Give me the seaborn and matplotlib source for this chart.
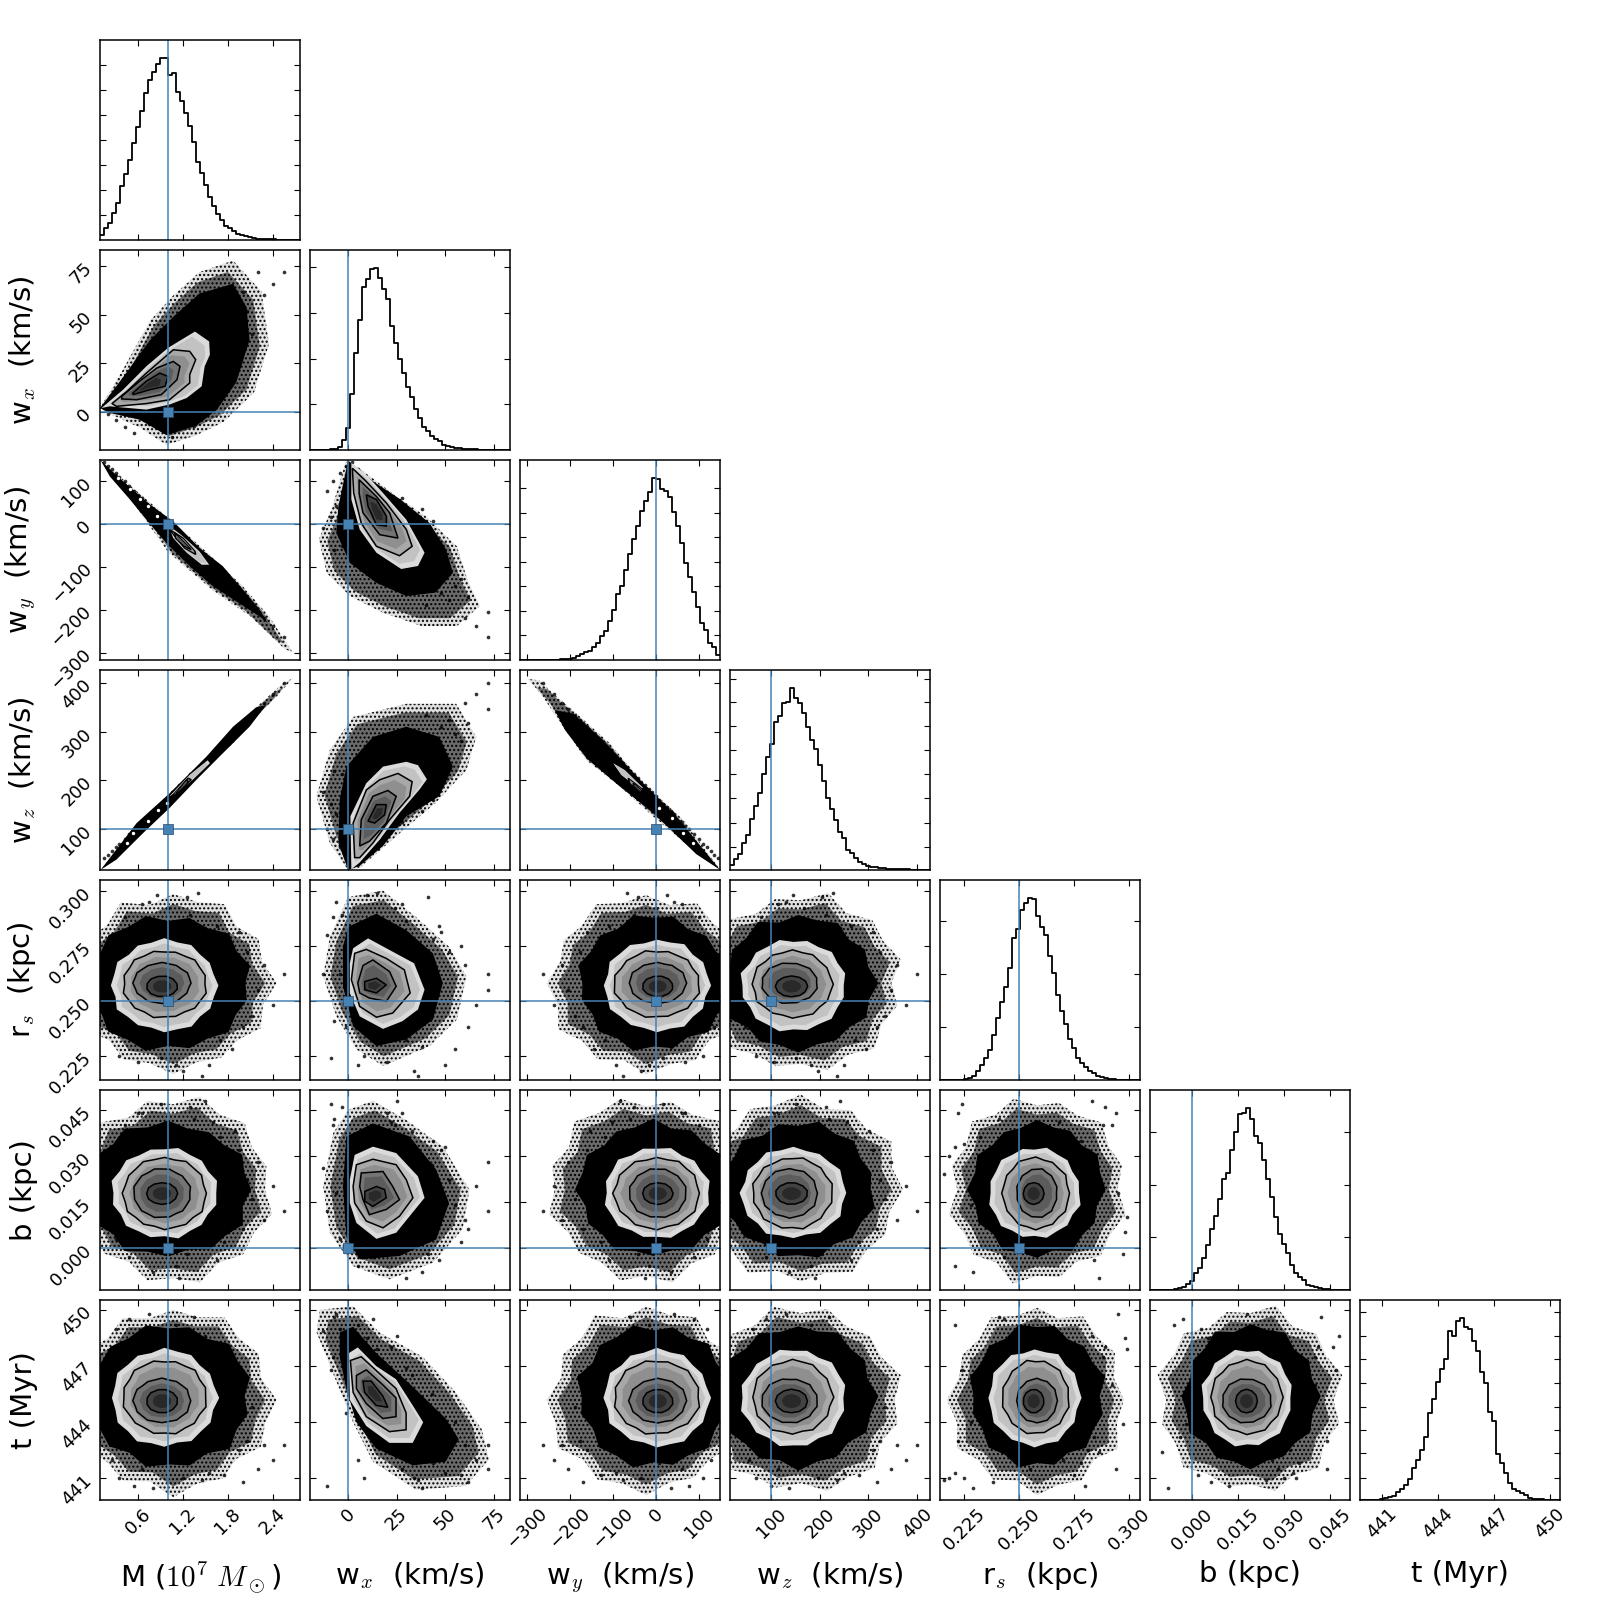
import matplotlib
matplotlib.use('Agg')
import numpy as np
import pandas as pd
import seaborn as sns
import matplotlib.pyplot as plt

sns.set_style('white')
plt.rcParams['mathtext.fontset'] = 'cm'
plt.rcParams['font.family'] = 'DejaVu Sans'
plt.rcParams['hatch.linewidth'] = 1.0
plt.rcParams['text.color'] = 'k'
plt.rcParams['axes.labelcolor'] = 'k'

names = ['M', 'wx', 'wy', 'wz', 'rs', 'b', 't']
labels = [r'M ($10^7\ M_\odot$)', r'w$_x$  (km/s)', r'w$_y$  (km/s)', r'w$_z$  (km/s)',
          r'r$_s$  (kpc)', 'b (kpc)', 't (Myr)']
ranges = [(0.09, 2.765), (-19.6, 83.4), (-317, 149), (15.6, 426.5),
          (0.214, 0.3048), (-0.0138, 0.0515), (439.85, 450.53)]
truths = [1.0, 0.0, 0.0, 100.0, 0.25, 0.0, None]

ticks = [[0.6, 1.2, 1.8, 2.4], [0, 25, 50, 75], [-300, -200, -100, 0, 100], [100, 200, 300, 400],
         [0.225, 0.25, 0.275, 0.3], [0.0, 0.015, 0.03, 0.045], [441, 444, 447, 450]]
tick_labels = [['0.6', '1.2', '1.8', '2.4'], ['0', '25', '50', '75'],
               ['\u2212300', '\u2212200', '\u2212100', '0', '100'], ['100', '200', '300', '400'],
               ['0.225', '0.250', '0.275', '0.300'], ['0.000', '0.015', '0.030', '0.045'],
               ['441', '444', '447', '450']]

# marginal histograms, 50 bins each
hist_M = [14, 37, 52, 82, 111, 161, 199, 239, 290, 340, 388, 442, 480, 504, 529, 547, 547, 495, 501, 445,
          417, 382, 342, 293, 235, 202, 166, 129, 102, 79, 59, 41, 35, 26, 19, 15, 11, 8, 5, 4,
          3, 3, 2, 2, 1, 1, 1, 1, 1, 0]
hist_wx = [0, 0, 0, 0, 1, 2, 3, 8, 30, 67, 167, 292, 390, 488, 513, 544, 547, 515, 484, 452,
           372, 322, 272, 230, 188, 158, 122, 95, 70, 57, 42, 32, 27, 15, 12, 9, 7, 5, 4, 3,
           2, 2, 1, 1, 1, 1, 0, 0, 0, 0]
hist_wy = [0, 0, 0, 0, 0, 0, 0, 1, 1, 1, 2, 2, 4, 5, 13, 18, 23, 26, 40, 52,
           72, 88, 117, 151, 198, 222, 270, 317, 363, 402, 447, 476, 503, 546, 542, 512, 505, 489, 442, 401,
           350, 290, 248, 203, 158, 110, 89, 52, 38, 16]
hist_wz = [15, 32, 49, 81, 106, 154, 193, 232, 289, 338, 378, 443, 461, 501, 505, 547, 517, 500, 471, 428,
           391, 362, 315, 268, 215, 183, 149, 113, 96, 60, 50, 37, 25, 18, 13, 10, 8, 6, 5, 4,
           3, 3, 2, 2, 2, 1, 1, 1, 1, 0]
hist_rs = [0, 0, 0, 0, 0, 1, 3, 7, 13, 27, 45, 65, 90, 134, 185, 233, 278, 335, 425, 450,
           508, 528, 545, 542, 490, 458, 433, 370, 320, 254, 205, 167, 123, 95, 67, 50, 38, 27, 20, 12,
           8, 5, 3, 2, 1, 1, 1, 0, 0, 0]
hist_b = [0, 0, 0, 0, 0, 1, 3, 5, 10, 18, 27, 50, 67, 97, 135, 182, 223, 273, 333, 350,
          419, 472, 527, 530, 546, 512, 462, 440, 390, 332, 279, 218, 168, 139, 112, 75, 50, 40, 30, 15,
          12, 9, 6, 4, 2, 1, 1, 1, 0, 0]
hist_t = [0, 0, 0, 0, 1, 3, 6, 9, 13, 25, 32, 45, 64, 95, 120, 149, 188, 261, 303, 354,
          392, 423, 505, 492, 537, 546, 517, 512, 477, 445, 382, 349, 264, 236, 138, 110, 80, 52, 32, 26,
          20, 14, 6, 4, 3, 2, 1, 1, 1, 0]
hists = [hist_M, hist_wx, hist_wy, hist_wz, hist_rs, hist_b, hist_t]

hist_ticks = [[75, 150, 225, 300, 375, 450, 525], [137, 272, 411, 548], [74, 146, 222, 293, 368, 440, 515],
              [70, 142, 215, 287, 359, 431, 503, 573], [158, 317, 476], [158, 314, 473],
              [67, 140, 209, 280, 350, 422, 492, 564]]

# centre and full width of each density level: outer scatter, solid scatter, then four contours
centre_M = [1.07, 1.0, 0.95, 0.955, 0.92, 0.92]
width_M = [2.58, 2.18, 1.40, 1.11, 0.76, 0.41]
centre_wy = [-23, -6, 2, 2, 4, 4]
width_wy = [442, 345, 244, 198, 132, 70]
centre_wz = [161, 156, 146, 144, 138, 142]
width_wz = [401, 310, 214, 163, 114, 65]
centre_rs = [0.258, 0.258, 0.2569, 0.2575, 0.258, 0.2565]
width_rs = [0.078, 0.060, 0.0413, 0.0301, 0.0183, 0.0093]
centre_b = [0.019, 0.019, 0.0179, 0.0178, 0.0178, 0.0177]
width_b = [0.0585, 0.0433, 0.0293, 0.0231, 0.0159, 0.007]
centre_t = [445.2, 445.4, 445.3, 445.34, 445.15, 445.13]
width_t = [9.6, 7.45, 5.14, 3.9, 2.34, 1.24]
centres = {'M': centre_M, 'wy': centre_wy, 'wz': centre_wz, 'rs': centre_rs, 'b': centre_b, 't': centre_t}
widths = {'M': width_M, 'wy': width_wy, 'wz': width_wz, 'rs': width_rs, 'b': width_b, 't': width_t}

# lumpy rim of the round contours, relative radius around the outline
rim = [1.00, 0.95, 1.04, 0.97, 1.06, 0.96, 1.02, 0.94, 1.05, 0.98, 1.03, 0.95,
       1.07, 0.97, 1.01, 0.94, 1.04, 0.99, 1.06, 0.95, 1.02, 0.97, 1.05, 0.96]
rim_strength = [1.2, 1.0, 0.7, 0.6, 0.5, 0.4]

# skewed and narrow panels, outlines
M_wx = [
    [(0.09, 2), (0.40, 22), (0.76, 47), (1.07, 60), (1.42, 72), (1.87, 78), (2.25, 62), (2.35, 35), (2.15, 10), (1.75, -5), (1.38, -12), (0.98, -17), (0.62, -8), (0.22, -1)],
    [(0.09, 2), (0.40, 18), (0.76, 37), (1.07, 49), (1.42, 61), (1.87, 66), (2.05, 54), (2.09, 37), (1.91, 15), (1.65, 1), (1.38, -7), (0.98, -12), (0.62, -4), (0.22, -0.5)],
    [(0.11, 2), (0.40, 11.5), (0.71, 23.5), (1.0, 33), (1.36, 41.4), (1.55, 36.3), (1.56, 29.5), (1.49, 23.5), (1.45, 13.2), (1.25, 7.2), (1.02, 3.8), (0.71, 1.2), (0.22, 2.9)],
    [(0.25, 4.3), (0.45, 10.6), (0.71, 20), (1.07, 32), (1.29, 31.2), (1.37, 26.9), (1.29, 19.2), (1.29, 14.9), (1.02, 6.3), (0.71, 4.3), (0.31, 2.9)],
    [(0.38, 8), (0.62, 15.8), (0.85, 22.6), (1.07, 26), (1.16, 23.5), (1.12, 16.6), (0.91, 8.9), (0.58, 6.3), (0.38, 6.7)],
    [(0.53, 9.8), (0.71, 15.8), (0.89, 20), (1.0, 18.3), (0.96, 13.2), (0.76, 11.5), (0.53, 8.9)],
]
wx_wy = [
    [(-1, 148), (9, 119), (25, 64), (40, 18), (56, -52), (62, -137), (68, -191), (56, -238), (38, -238), (18, -207), (1, -168), (-11, -114), (-15, -36), (-8, 41)],
    [(0, 148), (13, 99), (27, 57), (42, 2), (50.5, -60), (54, -114), (45, -160), (30, -168), (14.5, -137), (1, -91), (-6, -21), (-5, 41)],
    [(1.7, 142), (9.4, 115), (18, 72), (30, 10), (39.4, -67), (36, -98), (27.4, -105), (14.6, -67), (6, -13), (1.7, 57)],
    [(2.2, 130), (9.4, 99), (19.7, 49), (30, -13), (33, -52), (26.5, -74), (14.6, -52), (6.8, 2), (2.9, 72)],
    [(5.7, 103), (14.6, 64), (21.4, 26), (25.7, -33), (16.3, -25), (7.7, 26), (5.7, 72)],
    [(9.4, 68), (14.6, 57), (19.7, 18), (19.7, -5), (14.6, -2), (10.3, 41)],
]
wx_wz = [
    [(0, 16), (-9.4, 71), (-16.3, 167), (-9.4, 262), (2.6, 330), (30, 357), (55.7, 357), (66, 289), (61, 221), (45, 153), (24.8, 85), (6, 20)],
    [(0, 16), (-5, 71), (-4.3, 160), (-0.9, 228), (12.8, 289), (30, 310), (47, 289), (54, 228), (47, 167), (30, 126), (18, 65), (6, 24)],
    [(1.7, 17), (1.2, 126), (9.4, 194), (18, 228), (30, 238), (36, 231), (40.6, 202), (36.8, 181), (26.5, 133), (16.3, 78), (6, 31)],
    [(3.4, 41), (2.6, 112), (9.4, 180), (16.3, 201), (25.7, 214), (33, 197), (31.7, 167), (21.4, 119), (12.8, 71), (6, 41)],
    [(6, 65), (6.8, 119), (12.8, 167), (20.5, 179), (24.8, 167), (19.7, 112), (11.1, 75)],
    [(10.3, 116), (14.6, 150), (19.7, 150), (18.8, 129), (13.7, 112)],
]
wx_rs = [
    [(0, 0.297), (18, 0.300), (35, 0.288), (52, 0.2745), (61, 0.261), (56, 0.2414), (42, 0.2294), (18, 0.2204), (4.3, 0.2279), (-6, 0.2429), (-12.8, 0.261), (-9.4, 0.279)],
    [(0, 0.2835), (14.6, 0.2895), (30, 0.282), (43.7, 0.2715), (48.8, 0.258), (43.7, 0.2414), (30, 0.2324), (14.6, 0.2294), (2.6, 0.2384), (-2.6, 0.2565), (-2.6, 0.2745)],
    [(0.9, 0.267), (2.6, 0.2738), (10.3, 0.2783), (21.4, 0.273), (34, 0.267), (39.4, 0.255), (36, 0.246), (28, 0.2407), (18, 0.2372), (6, 0.2429), (0.9, 0.2535)],
    [(1.7, 0.2595), (3.4, 0.2715), (9.4, 0.2733), (19.7, 0.2692), (29, 0.264), (32, 0.2535), (23, 0.2444), (14.6, 0.2425), (6, 0.2474)],
    [(5, 0.258), (7.7, 0.266), (12.8, 0.2685), (21.4, 0.2632), (24.8, 0.2565), (19.7, 0.2497), (11, 0.2512), (6, 0.2535)],
    [(8.6, 0.2587), (14.6, 0.2602), (19.7, 0.2572), (14.6, 0.2535), (8.6, 0.255)],
]
wx_b = [
    [(0, 0.045), (12.8, 0.048), (30, 0.0417), (48.8, 0.033), (62.5, 0.019), (59, 0.006), (43.7, -0.0049), (21.4, -0.0103), (2.6, -0.006), (-9.4, 0.0049), (-12.8, 0.02), (-7.7, 0.0374)],
    [(-0.9, 0.0363), (12.8, 0.0406), (31.7, 0.0363), (45.4, 0.0255), (52, 0.0146), (45.4, 0.0027), (26.5, -0.0027), (6, -0.0038), (-0.9, 0.0038), (-2.6, 0.02)],
    [(0.9, 0.0222), (3.4, 0.0303), (12.8, 0.033), (24.8, 0.0309), (36, 0.0233), (39.4, 0.0163), (31.7, 0.0103), (24.8, 0.0049), (14.6, 0.0029), (4.3, 0.0081), (0.9, 0.0146)],
    [(2.6, 0.02), (4.3, 0.0271), (12.8, 0.0289), (24.8, 0.0271), (30, 0.0222), (33.4, 0.0163), (26.5, 0.0103), (18, 0.0065), (9.4, 0.0087), (3.4, 0.0146)],
    [(6, 0.02), (6.8, 0.0244), (18, 0.0249), (23, 0.02), (26.5, 0.0157), (19.7, 0.0125), (11, 0.0108), (7.7, 0.0157)],
    [(8.6, 0.0184), (14.6, 0.02), (18.8, 0.019), (19.7, 0.0163), (12.8, 0.0135), (8.6, 0.0152)],
]
wx_t = [
    [(-14.5, 450), (2.6, 450.2), (16.2, 448.8), (38.4, 447.5), (55.5, 445.6), (69, 443.6), (72.5, 442), (60.6, 440.6), (35, 440.4), (12.8, 441.9), (2.6, 444), (-7.7, 446.6), (-16.2, 448.8)],
    [(-4.3, 448.8), (2.6, 449.1), (14.5, 447.7), (33.3, 445.9), (50.3, 444.2), (57, 443.1), (50.3, 441.9), (33.3, 441.7), (14.5, 442.6), (4.3, 444), (-0.9, 445.8), (-4.3, 447.5)],
    [(0.5, 447.7), (5, 448), (14.5, 447), (24.7, 446.3), (33.3, 444.9), (38.7, 444), (33.3, 442.9), (21.3, 442.9), (9.4, 443.8), (0.9, 445.2)],
    [(1.2, 447.3), (6.8, 447.5), (16.2, 446.6), (24.7, 445.8), (29.9, 444.5), (29.9, 443.6), (21.3, 443.5), (9.4, 444.3), (2.6, 445.6)],
    [(4.3, 446.5), (9.4, 446.8), (17.9, 446), (24.7, 445.3), (24.7, 444.3), (17.9, 444.2), (9.4, 445), (4.3, 445.8)],
    [(7.7, 446.2), (11.9, 446.2), (17.9, 445.4), (20.5, 444.8), (14.5, 444.9), (8.5, 445.6)],
]
M_wy = [
    [(0.10, 148), (0.76, 50), (1.42, -50), (2.0, -145), (2.35, -215), (2.67, -300), (2.55, -290), (2.1, -215), (1.6, -155), (1.0, -65), (0.45, 70)],
    [(0.10, 148), (0.40, 99), (0.76, 45), (1.07, 6), (1.42, -56), (1.73, -98), (2.0, -153), (2.22, -199), (2.33, -230), (2.22, -215), (1.91, -180), (1.6, -145), (1.29, -98), (1.02, -52), (0.8, -9), (0.49, 57), (0.22, 111)],
    [(1.0, -2), (1.2, -29), (1.42, -64), (1.55, -95), (1.45, -95), (1.25, -67), (1.07, -33)],
    [(1.02, -13), (1.2, -33), (1.36, -64), (1.37, -71), (1.22, -56)],
    [(1.09, -21), (1.22, -44), (1.31, -60), (1.22, -52), (1.1, -33)],
]
M_wz = [
    [(0.10, 17), (0.62, 112), (1.2, 187), (1.73, 276), (2.18, 350), (2.53, 398), (2.67, 410), (2.49, 378), (2.22, 337), (1.87, 276), (1.47, 221), (0.85, 133), (0.36, 58)],
    [(0.10, 16), (0.58, 112), (1.02, 173), (1.51, 248), (1.87, 310), (2.18, 350), (2.31, 354), (2.09, 310), (1.73, 255), (1.38, 201), (1.02, 143), (0.67, 92), (0.31, 37)],
    [(1.02, 167), (1.29, 211), (1.53, 241), (1.56, 235), (1.33, 201), (1.11, 173)],
    [(1.05, 167), (1.27, 204), (1.31, 201), (1.11, 173)],
    [(1.11, 173), (1.25, 201), (1.27, 197), (1.13, 175)],
]
wy_wz = [
    [(-298, 408), (-271, 405), (-240, 378), (-185, 337), (-108, 276), (-30, 194), (63, 119), (148, 18), (94, 51), (-7, 126), (-84, 187), (-162, 241), (-232, 330), (-263, 371)],
    [(-236, 344), (-193, 337), (-123, 282), (-30, 194), (47, 126), (149, 16), (94, 48), (-7, 133), (-84, 187), (-162, 245), (-212, 303)],
    [(-100, 235), (-73, 221), (-30, 184), (-42, 184), (-81, 211)],
    [(-65, 204), (-30, 180), (-34, 173), (-61, 194)],
    [(-53, 194), (-32, 177), (-34, 175), (-53, 190)],
]
outlined = {('wx', 'M'): M_wx, ('wy', 'wx'): wx_wy, ('wz', 'wx'): wx_wz, ('rs', 'wx'): wx_rs,
            ('b', 'wx'): wx_b, ('t', 'wx'): wx_t, ('wy', 'M'): M_wy, ('wz', 'M'): M_wz, ('wz', 'wy'): wy_wz}

# sparse tail points, estimated
tail_M = [2.55, 2.40, 2.28, 2.20, 2.12, 2.05, 2.00, 1.95, 1.90, 1.85, 1.80, 1.75, 1.70, 1.65, 1.60,
          0.15, 0.20, 0.25, 0.30, 0.35, 0.42, 0.48, 0.55, 0.60, 0.75, 0.85, 1.00, 1.10, 1.20, 1.30,
          0.90, 0.80, 1.05, 0.95, 1.15, 0.65, 1.40, 1.45, 1.35, 1.25, 1.50, 1.55]
tail_wx = [72, 66, 60, 72, 40, 52, 62, 48, 33, 55, 43, 58, 30, 47, 22,
           2, -1, 5, -4, 8, -8, 13, -11, 20, -6, 10, 24, 5, 34, -3,
           -9, 38, -13, 44, 30, 28, 15, 36, -7, 41, 25, 50]
tail_wy = [-264, -238, -218, -204, -190, -178, -170, -160, -153, -145, -136, -128, -119, -110, -102,
           145, 136, 128, 119, 110, 99, 88, 76, 68, 42, 25, 0, -17, -34, -51,
           17, 34, -9, 8, -25, 60, -68, -77, -60, -42, -85, -94]
tail_wz = [400, 377, 359, 347, 335, 324, 317, 310, 302, 295, 287, 280, 272, 265, 257,
           40, 47, 55, 62, 70, 80, 89, 100, 107, 130, 145, 167, 182, 197, 212,
           152, 137, 175, 160, 190, 115, 227, 235, 220, 205, 242, 250]
tail_rs = [0.262, 0.248, 0.266, 0.255, 0.243, 0.272, 0.238, 0.281, 0.262, 0.228, 0.250, 0.275, 0.232, 0.284, 0.268,
           0.252, 0.238, 0.270, 0.262, 0.225, 0.288, 0.243, 0.280, 0.222, 0.295, 0.298, 0.292, 0.221, 0.218, 0.289,
           0.224, 0.229, 0.262, 0.278, 0.286, 0.294, 0.299, 0.216, 0.241, 0.297, 0.283, 0.221]
tail_b = [0.012, 0.020, 0.009, 0.028, 0.016, 0.022, 0.006, 0.032, 0.038, 0.014, 0.027, 0.002, 0.036, -0.004, 0.041,
          0.020, 0.010, 0.026, 0.003, 0.034, 0.040, -0.003, 0.012, 0.044, 0.018, 0.005, 0.040, -0.006, 0.030, 0.046,
          0.047, -0.008, 0.026, 0.035, -0.010, 0.044, 0.010, 0.024, 0.042, -0.002, 0.048, 0.033]
tail_t = [442.8, 442.0, 442.8, 441.5, 444.8, 443.0, 440.8, 442.5, 446.5, 444.0, 445.5, 441.2, 446.9, 443.2, 448.0,
          446.5, 444.5, 442.0, 449.0, 441.0, 447.5, 449.5, 440.6, 443.0, 449.8, 448.5, 446.0, 449.2, 441.0, 448.0,
          446.8, 440.5, 448.9, 441.8, 442.4, 441.5, 447.9, 440.9, 449.6, 443.9, 448.6, 441.3]
tails = [tail_M, tail_wx, tail_wy, tail_wz, tail_rs, tail_b, tail_t]

# pale gaps between the contours of the narrow panels
M_wy_gaps = ([0.33, 0.49, 0.62, 0.73, 0.85], [107, 81, 58, 41, 19])
M_wz_gaps = ([0.45, 0.53, 0.73, 0.87, 0.98], [71, 92, 116, 139, 153])
wy_wz_gaps = ([8, 36, 63, 86], [143, 122, 92, 71])
gaps = {('wy', 'M'): M_wy_gaps, ('wz', 'M'): M_wz_gaps, ('wz', 'wy'): wy_wz_gaps}

level_colors = [None, 'k', '0.86', '0.66', '0.46', '0.26']
inner_colors = [None, None, '0.76', '0.56', '0.36', '0.16']
inner_scale = [None, None, 0.89, 0.83, 0.77, 0.6]
blue = '#4682b4'

n = len(names)
fig, axes = plt.subplots(n, n, figsize=(16, 16), dpi=100)
fig.subplots_adjust(left=100 / 1600, right=1560 / 1600, top=1 - 40 / 1600, bottom=1 - 1500 / 1600,
                    wspace=0.05, hspace=0.05)


def round_outline(row, col, k):
    angle = np.linspace(0, 2 * np.pi, len(rim), endpoint=False)
    r = 1 + (np.roll(rim, 5 * row + 7 * col + 3 * k) - 1) * rim_strength[k]
    xs = centres[names[col]][k] + widths[names[col]][k] / 2 * r * np.cos(angle)
    ys = centres[names[row]][k] + widths[names[row]][k] / 2 * r * np.sin(angle)
    return xs, ys


def draw_levels(ax, row, col):
    key = (names[row], names[col])
    for k in range(len(outlined[key]) if key in outlined else 6):
        if key in outlined:
            xs, ys = np.array(outlined[key][k]).T
        else:
            xs, ys = round_outline(row, col, k)
        cx, cy = xs.mean(), ys.mean()
        if k == 0:
            # stippled halo standing in for the dense scatter around the solid core
            ax.fill(xs, ys, facecolor='0.88', edgecolor='k', lw=0, hatch='....', zorder=1)
            ax.fill(cx + (xs - cx) * 0.89, cy + (ys - cy) * 0.89, facecolor='0.42', edgecolor='k', lw=0,
                    hatch='....', zorder=1.5)
            continue
        ax.fill(xs, ys, facecolor=level_colors[k], edgecolor='k' if k >= 3 else 'none',
                lw=1.1 if k >= 3 else 0, zorder=2 + k)
        if k >= 2:
            ax.fill(cx + (xs - cx) * inner_scale[k], cy + (ys - cy) * inner_scale[k],
                    facecolor=inner_colors[k], lw=0, zorder=2.5 + k)


for row in range(n):
    for col in range(n):
        ax = axes[row, col]
        if col > row:
            ax.axis('off')
            continue
        if row == col:
            edges = np.linspace(ranges[col][0], ranges[col][1], 51)
            binned = pd.DataFrame({'value': (edges[:-1] + edges[1:]) / 2, 'count': hists[col]})
            sns.histplot(data=binned, x='value', weights='count', bins=list(edges), element='step',
                         fill=False, color='k', lw=1.3, ax=ax)
            ax.set_ylim(0, 1.097 * max(hists[col]))
            ax.set_yticks(hist_ticks[col])
        else:
            draw_levels(ax, row, col)
            sns.scatterplot(x=tails[col], y=tails[row], s=7, color='k', linewidth=0, alpha=0.8,
                            legend=False, zorder=2, ax=ax)
            if (names[row], names[col]) in gaps:
                gx, gy = gaps[(names[row], names[col])]
                sns.scatterplot(x=gx, y=gy, s=6, color='white', linewidth=0, legend=False, zorder=12, ax=ax)
            ax.set_ylim(ranges[row])
            ax.set_yticks(ticks[row])
            if truths[row] is not None:
                ax.axhline(truths[row], color=blue, lw=1.1, zorder=13)
            if truths[row] is not None and truths[col] is not None:
                sns.scatterplot(x=[truths[col]], y=[truths[row]], marker='s', s=50, color=blue,
                                edgecolor='#2a4a66', linewidth=0.5, legend=False, zorder=14, ax=ax)
        if truths[col] is not None:
            ax.axvline(truths[col], color=blue, lw=1.1, zorder=13)
        ax.set_xlim(ranges[col])
        ax.set_xticks(ticks[col])
        ax.tick_params(direction='in', top=True, right=True, bottom=True, left=True, length=4, width=0.8,
                       colors='k', labelsize=13)
        ax.set_xlabel('')
        ax.set_ylabel('')
        for s in ax.spines.values():
            s.set_color('k')
            s.set_linewidth(1.1)
            s.set_zorder(20)
        if row == n - 1:
            ax.set_xticklabels(tick_labels[col], rotation=45)
            ax.set_xlabel(labels[col], fontsize=21)
            ax.xaxis.set_label_coords(0.5, -0.3)
        else:
            ax.set_xticklabels([])
        if col == 0 and row > 0:
            ax.set_yticklabels(tick_labels[row], rotation=45)
            ax.set_ylabel(labels[row], fontsize=21)
            ax.yaxis.set_label_coords(-0.31, 0.5)
        else:
            ax.set_yticklabels([])

fig.savefig('out.png', dpi=100)
